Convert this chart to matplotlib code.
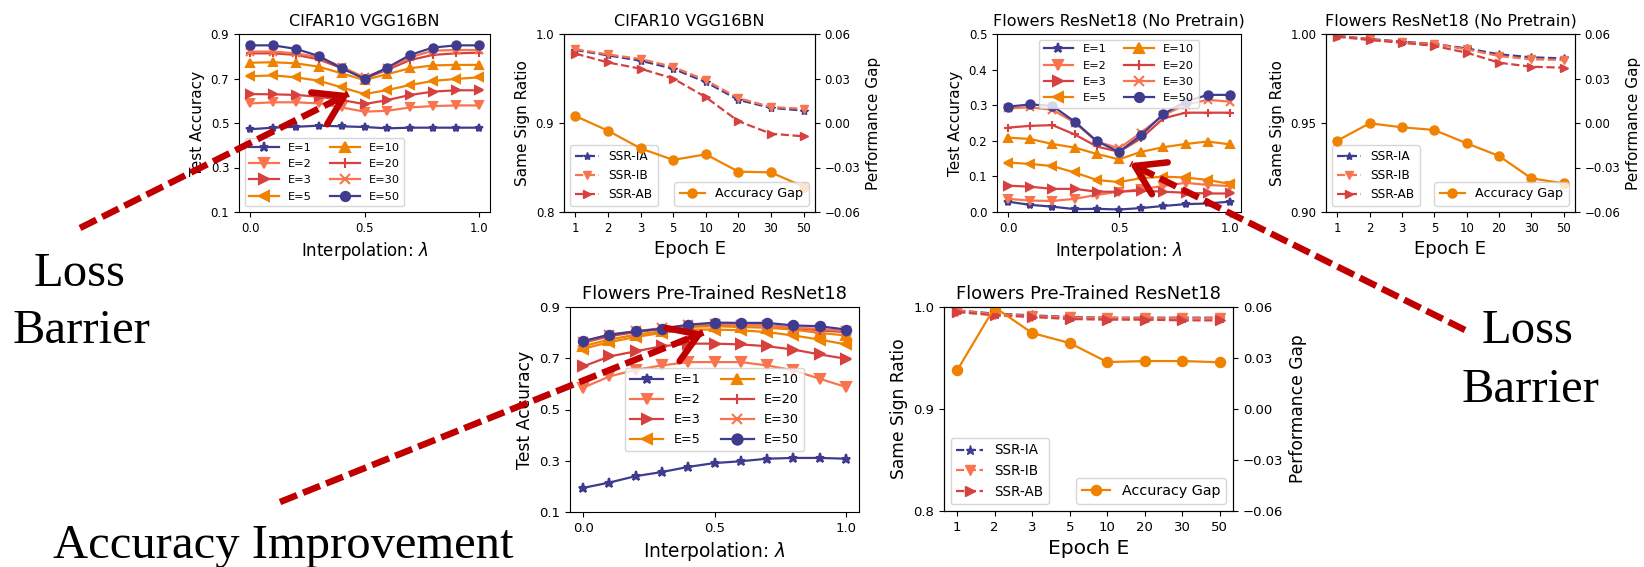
import matplotlib.pyplot as plt
from matplotlib.lines import Line2D
from matplotlib.patches import FancyArrowPatch
from matplotlib.transforms import Affine2D

# interpolation coefficient and training epochs
lam = [0.0, 0.1, 0.2, 0.3, 0.4, 0.5, 0.6, 0.7, 0.8, 0.9, 1.0]
epoch_labels = ['1', '2', '3', '5', '10', '20', '30', '50']
run_labels = ['E=1', 'E=2', 'E=3', 'E=5', 'E=10', 'E=20', 'E=30', 'E=50']

# test accuracy along the interpolation path, one row per epoch setting
cifar_acc = [
    [0.472, 0.479, 0.483, 0.488, 0.485, 0.482, 0.476, 0.479, 0.479, 0.479, 0.479],
    [0.588, 0.593, 0.593, 0.588, 0.570, 0.551, 0.555, 0.570, 0.576, 0.579, 0.579],
    [0.630, 0.629, 0.626, 0.618, 0.603, 0.585, 0.603, 0.626, 0.641, 0.647, 0.647],
    [0.710, 0.714, 0.705, 0.690, 0.660, 0.630, 0.648, 0.671, 0.689, 0.698, 0.705],
    [0.771, 0.773, 0.768, 0.753, 0.723, 0.693, 0.720, 0.746, 0.759, 0.761, 0.761],
    [0.813, 0.813, 0.806, 0.786, 0.746, 0.701, 0.739, 0.783, 0.806, 0.813, 0.816],
    [0.821, 0.821, 0.813, 0.795, 0.753, 0.705, 0.746, 0.795, 0.825, 0.828, 0.828],
    [0.849, 0.849, 0.833, 0.801, 0.746, 0.699, 0.749, 0.806, 0.839, 0.849, 0.849],
]
flowers_acc = [
    [0.029, 0.020, 0.015, 0.008, 0.009, 0.007, 0.011, 0.017, 0.022, 0.024, 0.029],
    [0.037, 0.032, 0.031, 0.037, 0.048, 0.057, 0.064, 0.073, 0.082, 0.076, 0.073],
    [0.074, 0.071, 0.065, 0.065, 0.057, 0.057, 0.060, 0.057, 0.054, 0.052, 0.052],
    [0.139, 0.135, 0.129, 0.111, 0.090, 0.084, 0.095, 0.099, 0.097, 0.090, 0.079],
    [0.209, 0.205, 0.191, 0.181, 0.163, 0.148, 0.169, 0.182, 0.191, 0.198, 0.190],
    [0.237, 0.242, 0.244, 0.218, 0.184, 0.169, 0.207, 0.263, 0.279, 0.279, 0.279],
    [0.291, 0.294, 0.287, 0.251, 0.198, 0.179, 0.223, 0.272, 0.301, 0.315, 0.310],
    [0.296, 0.302, 0.298, 0.254, 0.199, 0.169, 0.216, 0.275, 0.310, 0.329, 0.329],
]
pretrained_acc = [
    [0.194, 0.215, 0.240, 0.256, 0.276, 0.291, 0.298, 0.308, 0.311, 0.311, 0.308],
    [0.585, 0.629, 0.655, 0.672, 0.685, 0.685, 0.685, 0.672, 0.653, 0.620, 0.588],
    [0.668, 0.707, 0.727, 0.747, 0.757, 0.757, 0.754, 0.747, 0.734, 0.715, 0.698],
    [0.737, 0.763, 0.783, 0.799, 0.812, 0.812, 0.809, 0.802, 0.789, 0.773, 0.754],
    [0.747, 0.773, 0.792, 0.805, 0.822, 0.825, 0.822, 0.819, 0.812, 0.799, 0.789],
    [0.760, 0.786, 0.802, 0.815, 0.828, 0.832, 0.831, 0.828, 0.819, 0.809, 0.802],
    [0.763, 0.792, 0.805, 0.818, 0.828, 0.835, 0.831, 0.828, 0.819, 0.815, 0.806],
    [0.767, 0.792, 0.805, 0.815, 0.831, 0.839, 0.838, 0.838, 0.828, 0.825, 0.812],
]

# same sign ratios (IA, IB, AB) and accuracy gap per epoch
cifar_ssr_ia = [0.982, 0.976, 0.970, 0.961, 0.946, 0.926, 0.917, 0.914]
cifar_ssr_ib = [0.983, 0.977, 0.972, 0.963, 0.948, 0.928, 0.918, 0.916]
cifar_ssr_ab = [0.978, 0.968, 0.961, 0.950, 0.929, 0.902, 0.888, 0.885]
cifar_gap = [0.0047, -0.0052, -0.0171, -0.0249, -0.0211, -0.0328, -0.0333, -0.0429]

flowers_ssr_ia = [0.9989, 0.9972, 0.9957, 0.9944, 0.9919, 0.9886, 0.9869, 0.9863]
flowers_ssr_ib = [0.9989, 0.9970, 0.9953, 0.9944, 0.9914, 0.9876, 0.9858, 0.9854]
flowers_ssr_ab = [0.9985, 0.9966, 0.9951, 0.9933, 0.9895, 0.9839, 0.9816, 0.9811]
flowers_gap = [-0.0119, -0.0002, -0.0029, -0.0047, -0.0137, -0.0222, -0.0373, -0.0407]

pretrained_ssr_ia = [0.9967, 0.9935, 0.9918, 0.9902, 0.9895, 0.9895, 0.9895, 0.9895]
pretrained_ssr_ib = [0.9965, 0.9930, 0.9912, 0.9898, 0.9892, 0.9890, 0.9890, 0.9890]
pretrained_ssr_ab = [0.9951, 0.9918, 0.9902, 0.9882, 0.9876, 0.9876, 0.9869, 0.9869]
pretrained_gap = [0.0227, 0.0598, 0.0447, 0.0388, 0.0276, 0.0282, 0.0282, 0.0275]

INDIGO = '#3f3b8e'
CORAL = '#f7744f'
RED = '#d6413f'
ORANGE = '#ef8200'
run_colors = [INDIGO, CORAL, RED, ORANGE, ORANGE, RED, CORAL, INDIGO]
run_markers = ['*', 'v', '>', '<', '^', '+', 'x', 'o']
ARROW_RED = '#c00000'

W, H = 1644, 567
fig = plt.figure(figsize=(W / 100, H / 100), dpi=100)


def rect(left, top, right, bottom):
    # axes box given in pixels measured from the top-left corner
    return [left / W, 1 - bottom / H, (right - left) / W, (bottom - top) / H]


def acc_panel(box, title, curves, ylim, yticks, loc, s=1.0):
    ax = fig.add_axes(box)
    for vals, lab, col, mk in zip(curves, run_labels, run_colors, run_markers):
        ax.plot(lam, vals, color=col, marker=mk, ms=6 * s, mew=1.5, lw=1.6,
                label=lab)
    ax.set_ylim(*ylim)
    ax.set_yticks(yticks)
    ax.set_xticks([0.0, 0.5, 1.0])
    ax.tick_params(labelsize=8.5 * s)
    ax.set_title(title, fontsize=11.5 * s)
    ax.set_xlabel(r'Interpolation: $\lambda$', fontsize=12 * s)
    ax.set_ylabel('Test Accuracy', fontsize=11 * s)
    ax.legend(loc=loc, ncol=2, fontsize=8.2 * s, handlelength=2.6,
              columnspacing=1.6, labelspacing=0.55, markerscale=1.1)
    return ax


def ssr_panel(box, title, ia, ib, ab, gap, ylim, yticks, s=1.0):
    ax = fig.add_axes(box)
    ax.plot(epoch_labels, ia, '--', marker='*', color=INDIGO, ms=6 * s,
            lw=1.6, label='SSR-IA')
    ax.plot(epoch_labels, ib, '--', marker='v', color=CORAL, ms=6 * s,
            lw=1.6, label='SSR-IB')
    ax.plot(epoch_labels, ab, '--', marker='>', color=RED, ms=6 * s,
            lw=1.6, label='SSR-AB')
    ax.set_ylim(*ylim)
    ax.set_yticks(yticks)
    ax.tick_params(labelsize=8.5 * s)
    ax.set_title(title, fontsize=11.5 * s)
    ax.set_xlabel('Epoch E', fontsize=13 * s)
    ax.set_ylabel('Same Sign Ratio', fontsize=11 * s)
    ax.legend(loc='lower left', fontsize=8.7 * s)

    ax2 = ax.twinx()
    ax2.plot(epoch_labels, gap, '-', marker='o', color=ORANGE, ms=6.5 * s,
             lw=1.6, label='Accuracy Gap')
    ax2.set_ylim(-0.06, 0.06)
    ax2.set_yticks([-0.06, -0.03, 0.0, 0.03, 0.06])
    ax2.tick_params(labelsize=8.5 * s)
    ax2.set_ylabel('Performance Gap', fontsize=11 * s)
    ax2.legend(loc='lower right', fontsize=9.2 * s)
    return ax


acc_panel(rect(239, 34, 490, 212), 'CIFAR10 VGG16BN', cifar_acc,
          (0.1, 0.9), [0.1, 0.3, 0.5, 0.7, 0.9], 'lower left')
ssr_panel(rect(564, 34, 815, 212), 'CIFAR10 VGG16BN',
          cifar_ssr_ia, cifar_ssr_ib, cifar_ssr_ab, cifar_gap,
          (0.8, 1.0), [0.8, 0.9, 1.0])
acc_panel(rect(997, 34, 1241, 212), 'Flowers ResNet18 (No Pretrain)',
          flowers_acc, (0.0, 0.5), [0.0, 0.1, 0.2, 0.3, 0.4, 0.5],
          'upper center')
ssr_panel(rect(1326, 34, 1575, 212), 'Flowers ResNet18 (No Pretrain)',
          flowers_ssr_ia, flowers_ssr_ib, flowers_ssr_ab, flowers_gap,
          (0.9, 1.0), [0.90, 0.95, 1.00])
acc_panel(rect(570, 307, 859, 512), 'Flowers Pre-Trained ResNet18',
          pretrained_acc, (0.1, 0.9), [0.1, 0.3, 0.5, 0.7, 0.9], 'center',
          s=1.12)
ssr_panel(rect(944, 307, 1233, 511), 'Flowers Pre-Trained ResNet18',
          pretrained_ssr_ia, pretrained_ssr_ib, pretrained_ssr_ab,
          pretrained_gap, (0.8, 1.0), [0.8, 0.9, 1.0], s=1.12)

# pixel coordinates from the top-left corner for the annotations
px = Affine2D().scale(1 / W, -1 / H).translate(0, 1) + fig.transFigure


def dashed_arrow(tail, tip):
    dx, dy = tip[0] - tail[0], tip[1] - tail[1]
    n = (dx ** 2 + dy ** 2) ** 0.5
    end = (tip[0] - 4 * dx / n, tip[1] - 4 * dy / n)
    fig.add_artist(Line2D([tail[0], end[0]], [tail[1], end[1]], transform=px,
                          color=ARROW_RED, lw=4.7, linestyle=(0, (2.8, 1.0)),
                          solid_capstyle='butt', dash_capstyle='butt',
                          zorder=5))
    back = (tip[0] - 20 * dx / n, tip[1] - 20 * dy / n)
    fig.add_artist(FancyArrowPatch(back, tip, transform=px,
                                   arrowstyle='->,head_length=0.5,head_width=0.32',
                                   mutation_scale=40, color=ARROW_RED, lw=4.7,
                                   zorder=5))


dashed_arrow((80, 228), (352, 92))
dashed_arrow((1465, 330), (1127, 162))
dashed_arrow((280, 502), (707, 331))

serif = dict(family='Liberation Serif', fontsize=35, color='black')
fig.text(80, 286, 'Loss', transform=px, ha='center', va='baseline', **serif)
fig.text(81, 343, 'Barrier', transform=px, ha='center', va='baseline', **serif)
fig.text(1528, 343, 'Loss', transform=px, ha='center', va='baseline', **serif)
fig.text(1530, 402, 'Barrier', transform=px, ha='center', va='baseline', **serif)
fig.text(53, 558, 'Accuracy Improvement', transform=px, ha='left',
         va='baseline', **serif)

fig.savefig('out.png', dpi=100)
